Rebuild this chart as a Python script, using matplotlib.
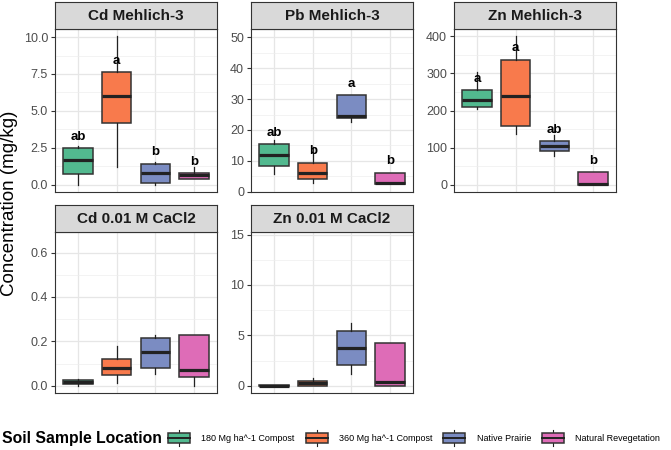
import numpy as np
import matplotlib
matplotlib.use('Agg')
import matplotlib.pyplot as plt
from matplotlib.patches import Rectangle, Patch
from matplotlib.lines import Line2D
from matplotlib.legend_handler import HandlerBase

plt.rcParams['font.family'] = ['Liberation Sans', 'DejaVu Sans']

groups = ['180 Mg ha^-1 Compost', '360 Mg ha^-1 Compost', 'Native Prairie', 'Natural Revegetation']
colours = ['#52B98F', '#F87A4C', '#7B8CC2', '#DE6CB7']

panels = ['Cd Mehlich-3', 'Pb Mehlich-3', 'Zn Mehlich-3', 'Cd 0.01 M CaCl2', 'Zn 0.01 M CaCl2']

# box stats per panel, one value per group
whislo = [[0.0, 1.18, 0.0, 0.39],
          [5.6, 2.8, 22.6, 2.4],
          [203, 136, 77, 0],
          [0.0, 0.013, 0.052, 0.0],
          [0.0, 0.0, 1.14, 0.0]]
q1 = [[0.73, 4.18, 0.14, 0.39],
      [8.2, 4.1, 23.8, 2.4],
      [210, 158, 92, 0],
      [0.007, 0.049, 0.08, 0.037],
      [0.0, 0.0, 2.02, 0.0]]
med = [[1.7, 6.02, 0.8, 0.68],
       [11.8, 6.2, 24.4, 2.9],
       [227, 240, 105, 2],
       [0.015, 0.081, 0.151, 0.07],
       [0.02, 0.23, 3.75, 0.39]]
q3 = [[2.48, 7.61, 1.43, 0.77],
      [15.3, 9.4, 31.2, 6.1],
      [254, 337, 117, 34],
      [0.025, 0.121, 0.216, 0.228],
      [0.05, 0.49, 5.41, 4.24]]
whishi = [[2.6, 10.1, 1.55, 1.18],
          [16.7, 14.5, 31.2, 6.1],
          [305, 400, 134, 34],
          [0.03, 0.181, 0.23, 0.228],
          [0.05, 0.78, 6.26, 4.24]]

# significance letters (none shown for CaCl2 panels)
letters = [['ab', 'a', 'b', 'b'],
           ['ab', 'b', 'a', 'b'],
           ['a', 'a', 'ab', 'b'],
           None, None]

ylims = [(-0.5, 10.55), (-0.1, 52.7), (-20, 420), (-0.033, 0.693), (-0.72, 15.25)]
yticks = [[0, 2.5, 5.0, 7.5, 10.0],
          [0, 10, 20, 30, 40, 50],
          [0, 100, 200, 300, 400],
          [0.0, 0.2, 0.4, 0.6],
          [0, 5, 10, 15]]
ytick_labels = [['0.0', '2.5', '5.0', '7.5', '10.0'],
                ['0', '10', '20', '30', '40', '50'],
                ['0', '100', '200', '300', '400'],
                ['0.0', '0.2', '0.4', '0.6'],
                ['0', '5', '10', '15']]

W, H = 671, 450
fig = plt.figure(figsize=(6.71, 4.5), dpi=100)

col_left = [55, 251, 454]
panel_w = 162
rows = [(29, 192), (232, 393)]  # (top, bottom) in pixels
strip_h = 27

dark = '#333333'

for p, name in enumerate(panels):
    r, c = divmod(p, 3)
    top, bot = rows[r]
    ax = fig.add_axes([col_left[c] / W, 1 - bot / H, panel_w / W, (bot - top) / H])
    sax = fig.add_axes([col_left[c] / W, 1 - top / H, panel_w / W, strip_h / H])
    sax.set_facecolor('#D9D9D9')
    sax.set_xticks([]); sax.set_yticks([])
    for s in sax.spines.values():
        s.set_color(dark); s.set_linewidth(0.8)
    sax.text(0.5, 0.47, name, ha='center', va='center', fontsize=11, fontweight='bold',
             color='#1A1A1A', transform=sax.transAxes)

    stats = []
    for g in range(4):
        stats.append(dict(whislo=whislo[p][g], q1=q1[p][g], med=med[p][g],
                          q3=q3[p][g], whishi=whishi[p][g], fliers=[]))
    bp = ax.bxp(stats, positions=[1, 2, 3, 4], widths=0.76, patch_artist=True,
                showcaps=False, showfliers=False,
                boxprops=dict(edgecolor=dark, linewidth=1.1),
                medianprops=dict(color='#222222', linewidth=2.3, solid_capstyle='butt'),
                whiskerprops=dict(color='#222222', linewidth=0.9))
    for patch, col in zip(bp['boxes'], colours):
        patch.set_facecolor(col)

    lo, hi = ylims[p]
    ax.set_ylim(lo, hi)
    ax.set_xlim(0.4, 4.6)
    ax.set_yticks(yticks[p])
    ax.set_yticklabels(ytick_labels[p])
    step = yticks[p][1] - yticks[p][0]
    minors = np.arange(yticks[p][0] - step / 2, hi, step)
    minors = minors[(minors > lo) & (minors < hi)]
    ax.set_yticks(minors, minor=True)
    ax.set_xticks([1, 2, 3, 4])
    ax.set_xticklabels([])
    ax.tick_params(axis='x', length=0)
    ax.tick_params(axis='y', which='major', length=3, width=0.8, color=dark,
                   labelsize=9, labelcolor='#4D4D4D', pad=2)
    ax.tick_params(axis='y', which='minor', length=0)
    ax.grid(True, which='major', color='#E6E6E6', linewidth=0.9)
    ax.grid(True, which='minor', axis='y', color='#EEEEEE', linewidth=0.5)
    ax.set_axisbelow(True)
    for s in ax.spines.values():
        s.set_color(dark); s.set_linewidth(0.8)

    if letters[p] is not None:
        off = 0.07 * (hi - lo)
        for g in range(4):
            ax.text(g + 1, q3[p][g] + off, letters[p][g], ha='center', va='center',
                    fontsize=9.5, fontweight='bold', color='black')

fig.text(10 / W, 1 - 203 / H, 'Concentration (mg/kg)', rotation=90,
         ha='center', va='center', fontsize=13.5, color='black')


class BoxKey(HandlerBase):
    def create_artists(self, legend, orig_handle, xdescent, ydescent, width, height, fontsize, trans):
        x0, y0 = -xdescent, -ydescent
        rect = Rectangle((x0, y0 + 0.17 * height), width, 0.66 * height,
                         facecolor=orig_handle.get_facecolor(), edgecolor=dark,
                         linewidth=1.1, transform=trans)
        mid = Line2D([x0, x0 + width], [y0 + 0.5 * height] * 2, color='#222222', lw=1.4, transform=trans)
        w1 = Line2D([x0 + width / 2] * 2, [y0, y0 + 0.17 * height], color='#222222', lw=0.8, transform=trans)
        w2 = Line2D([x0 + width / 2] * 2, [y0 + 0.83 * height, y0 + height], color='#222222', lw=0.8, transform=trans)
        return [w1, w2, rect, mid]


handles = [Patch(facecolor=c) for c in colours]
fig.text(2 / W, 1 - 438 / H, 'Soil Sample Location', ha='left', va='center',
         fontsize=11.3, fontweight='bold')
fig.legend(handles, groups, handler_map={Patch: BoxKey()}, loc='center left',
           bbox_to_anchor=(168 / W, 1 - 438 / H), ncol=4, frameon=False,
           fontsize=6.5, handlelength=2.45, handleheight=2.4, handletextpad=1.25,
           columnspacing=1.2, borderpad=0, borderaxespad=0)

fig.savefig('out.png', dpi=100)
